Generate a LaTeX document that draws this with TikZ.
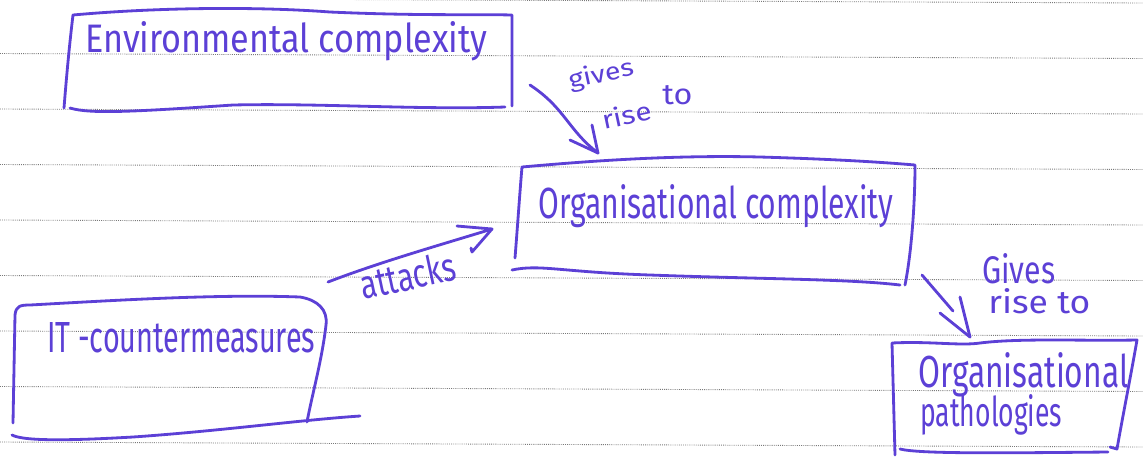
\documentclass[tikz,border=0pt]{standalone}
\usepackage{fontspec}
\setmainfont{Fira Sans}
\definecolor{ink}{RGB}{92,64,214}
\definecolor{rule}{RGB}{120,120,120}
% handwritten word: box of given width and height above the baseline
\newcommand\handtext[3]{\resizebox{#1}{#2}{#3}}
\tikzset{
  pen/.style={draw=ink, line width=1.6pt, line cap=round, line join=round},
  ruling/.style={draw=rule, line width=0.5pt, dash pattern=on 0.5pt off 0.7pt},
  word/.style={text=ink, inner sep=0pt, anchor=base west},
}
\begin{document}
\begin{tikzpicture}[x=0.02cm, y=-0.02cm]
\useasboundingbox (0,0) rectangle (1143,458);
\fill[white] (0,0) rectangle (1143,458);

% ruled notebook lines
\foreach \yy in {-2,53.5,109,164.5,220,275.5,331,386.5,442}
  \draw[ruling] (0,\yy) -- (1143,\yy+5);

% ---- Environmental complexity
\draw[pen] (64,108) .. controls (67,70) and (70,40) .. (73,15)
  .. controls (150,8) and (250,6) .. (330,12)
  .. controls (420,16) and (470,14) .. (512,15) -- (512,106);
\draw[pen] (70,108) .. controls (90,114) and (130,112) .. (233,105)
  .. controls (320,103) and (420,110) .. (505,107);
\node[word] (env) at (85,52) {\handtext{8.04cm}{0.62cm}{Environmental complexity}};

% ---- Organisational complexity
\draw[pen] (515,258) .. controls (518,220) and (520,190) .. (522,167)
  .. controls (600,160) and (680,155) .. (760,157)
  .. controls (830,159) and (880,162) .. (915,165)
  .. controls (915,200) and (912,250) .. (905,285);
\draw[pen] (512,270) .. controls (540,264) and (560,272) .. (650,275)
  .. controls (760,279) and (850,279) .. (900,285);
\node[word] (orgc) at (538,218) {\handtext{7.1cm}{0.68cm}{Organisational complexity}};

% ---- IT countermeasures
\draw[pen] (13,423) -- (15,315) .. controls (16,306) and (20,305) .. (30,305)
  .. controls (120,300) and (220,294) .. (300,297)
  .. controls (318,300) and (328,310) .. (326,325)
  .. controls (322,360) and (312,395) .. (307,422);
\draw[pen] (12,435) .. controls (25,442) and (80,440) .. (133,437)
  .. controls (220,431) and (300,420) .. (360,416);
\node[word] (itc) at (47,352) {\handtext{5.36cm}{0.6cm}{IT -countermeasures}};

% ---- Organisational pathologies
\draw[pen] (895,455) -- (892,343)
  .. controls (930,341) and (960,346) .. (980,343)
  .. controls (1020,338) and (1080,341) .. (1137,340)
  .. controls (1130,380) and (1122,420) .. (1117,449) -- (1110,447);
\draw[pen] (900,449) .. controls (920,454) and (1000,453) .. (1108,452);
\node[word] (orgp1) at (918,387) {\handtext{4.2cm}{0.7cm}{Organisational}};
\node[word] (orgp2) at (920,426) {\handtext{2.84cm}{0.64cm}{pathologies}};

% ---- connectors
\coordinate (a1s) at (530,85);  \coordinate (a1e) at (598,153);
\coordinate (a2s) at (328,282); \coordinate (a2e) at (492,229);
\coordinate (a3s) at (922,275); \coordinate (a3e) at (970,337);

\draw[pen] (a1s) .. controls (565,108) and (568,130) .. (a1e);
\draw[pen] (a1e) -- ++(-6,-28);
\draw[pen] (a1e) -- ++(-28,-13);

\draw[pen] (a2s) .. controls (380,262) and (440,245) .. (a2e);
\draw[pen] (a2e) -- ++(-35,-3);
\draw[pen] (a2e) -- ++(-20,23) -- ++(-1,-4);

\draw[pen] (a3s) -- (953,311);
\draw[pen] (a3e) -- ++(-10,-40);
\draw[pen] (a3e) -- ++(-30,-24);

% ---- connector labels
\node[word, rotate=12] (l1a) at (570,89) {\handtext{1.32cm}{0.38cm}{gives}};
\node[word, rotate=12] (l1b) at (604,130) {\handtext{1.0cm}{0.4cm}{rise}};
\node[word] (l1c) at (662,104) {\handtext{0.6cm}{0.38cm}{to}};
\node[word, rotate=12] (l2) at (363,300) {\handtext{1.94cm}{0.6cm}{attacks}};
\node[word] (l3a) at (982,283) {\handtext{1.46cm}{0.6cm}{Gives}};
\node[word] (l3b) at (988,313) {\handtext{2.04cm}{0.5cm}{rise to}};
\end{tikzpicture}
\end{document}
